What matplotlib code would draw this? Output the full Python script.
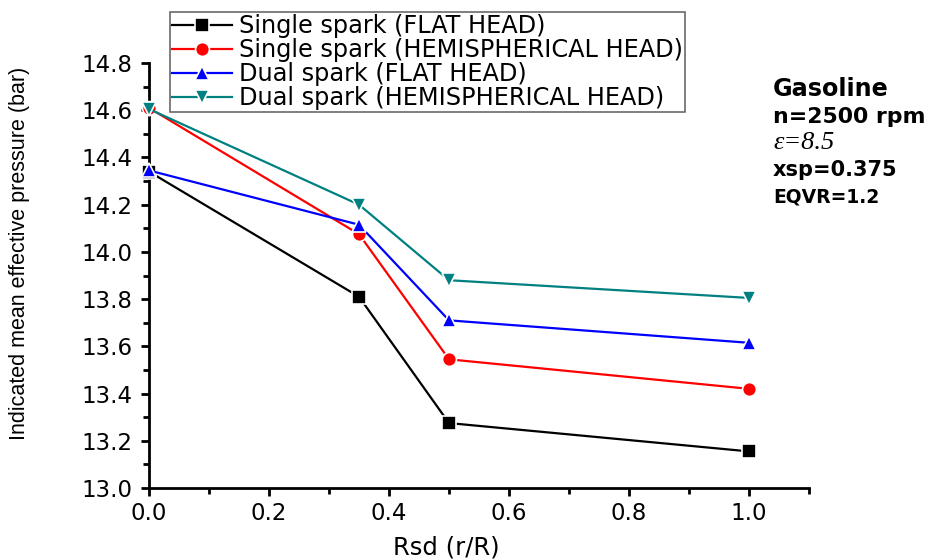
import matplotlib
matplotlib.use('Agg')
from matplotlib import pyplot as plt
import matplotlib.ticker as ticker

plt.rcParams['font.family'] = ['DejaVu Sans']

rsd = [0.0, 0.35, 0.5, 1.0]
single_flat = [14.34, 13.81, 13.275, 13.155]
single_hemi = [14.61, 14.075, 13.545, 13.42]
dual_flat = [14.345, 14.115, 13.71, 13.615]
dual_hemi = [14.605, 14.2, 13.88, 13.805]

series = [
    (single_flat, 'black', 's', 'Single spark (FLAT HEAD)'),
    (single_hemi, 'red', 'o', 'Single spark (HEMISPHERICAL HEAD)'),
    (dual_flat, 'blue', '^', 'Dual spark (FLAT HEAD)'),
    (dual_hemi, '#008080', 'v', 'Dual spark (HEMISPHERICAL HEAD)'),
]

fig = plt.figure(figsize=(9.32, 5.59), dpi=100)
ax = fig.add_axes([149 / 932, 1 - 488 / 559, (809 - 149) / 932, (488 - 63) / 559])

for vals, col, mk, lab in series:
    ax.plot(rsd, vals, color=col, marker=mk, markersize=10, linewidth=1.6,
            markeredgecolor='white', markeredgewidth=1.2, markerfacecolor=col,
            label=lab, clip_on=False, zorder=3)

ax.set_xlim(0, 1.1)
ax.set_ylim(13.0, 14.8)
ax.xaxis.set_major_locator(ticker.FixedLocator([0, 0.2, 0.4, 0.6, 0.8, 1.0]))
ax.xaxis.set_minor_locator(ticker.FixedLocator([0.1, 0.3, 0.5, 0.7, 0.9, 1.1]))
ax.yaxis.set_major_locator(ticker.MultipleLocator(0.2))
ax.yaxis.set_minor_locator(ticker.MultipleLocator(0.1))
ax.xaxis.set_major_formatter(ticker.FormatStrFormatter('%.1f'))
ax.yaxis.set_major_formatter(ticker.FormatStrFormatter('%.1f'))

for s in ['top', 'right']:
    ax.spines[s].set_visible(False)
for s in ['left', 'bottom']:
    ax.spines[s].set_linewidth(2)
ax.tick_params(which='major', direction='out', length=6, width=2, labelsize=16.5)
ax.tick_params(axis='y', which='major', pad=6)
ax.tick_params(axis='x', which='major', pad=4)
ax.tick_params(which='minor', direction='out', length=4, width=2)

ax.set_xlabel('Rsd (r/R)', fontsize=17.5)
ax.xaxis.set_label_coords(0.45, -0.112)
ax.set_ylabel('Indicated mean effective pressure (bar)', fontsize=15.5,
              family=['Liberation Sans', 'DejaVu Sans'])
ax.yaxis.set_label_coords(-0.18, 0.552)

leg = ax.legend(loc='upper left', bbox_to_anchor=(21 / 660, 1 + 51 / 425), fontsize=17.3,
                frameon=True, fancybox=False, borderpad=0.08, labelspacing=0.0,
                handlelength=2.5, handletextpad=0.3, borderaxespad=0)
leg.get_frame().set_edgecolor('#444444')
leg.get_frame().set_linewidth(1.2)

fig.text(773 / 932, 1 - 89 / 559, 'Gasoline', fontsize=17.2, fontweight='bold', va='center')
fig.text(773 / 932, 1 - 117 / 559, 'n=2500 rpm', fontsize=15.8, fontweight='bold', va='center')
fig.text(773 / 932, 1 - 143 / 559, 'ε=8.5', fontsize=19, style='italic', va='center',
         family=['Liberation Serif', 'DejaVu Serif'])
fig.text(773 / 932, 1 - 170 / 559, 'xsp=0.375', fontsize=15, fontweight='bold', va='center')
fig.text(773 / 932, 1 - 197 / 559, 'EQVR=1.2', fontsize=13.5, fontweight='bold', va='center')

fig.savefig('out.png', dpi=100)
